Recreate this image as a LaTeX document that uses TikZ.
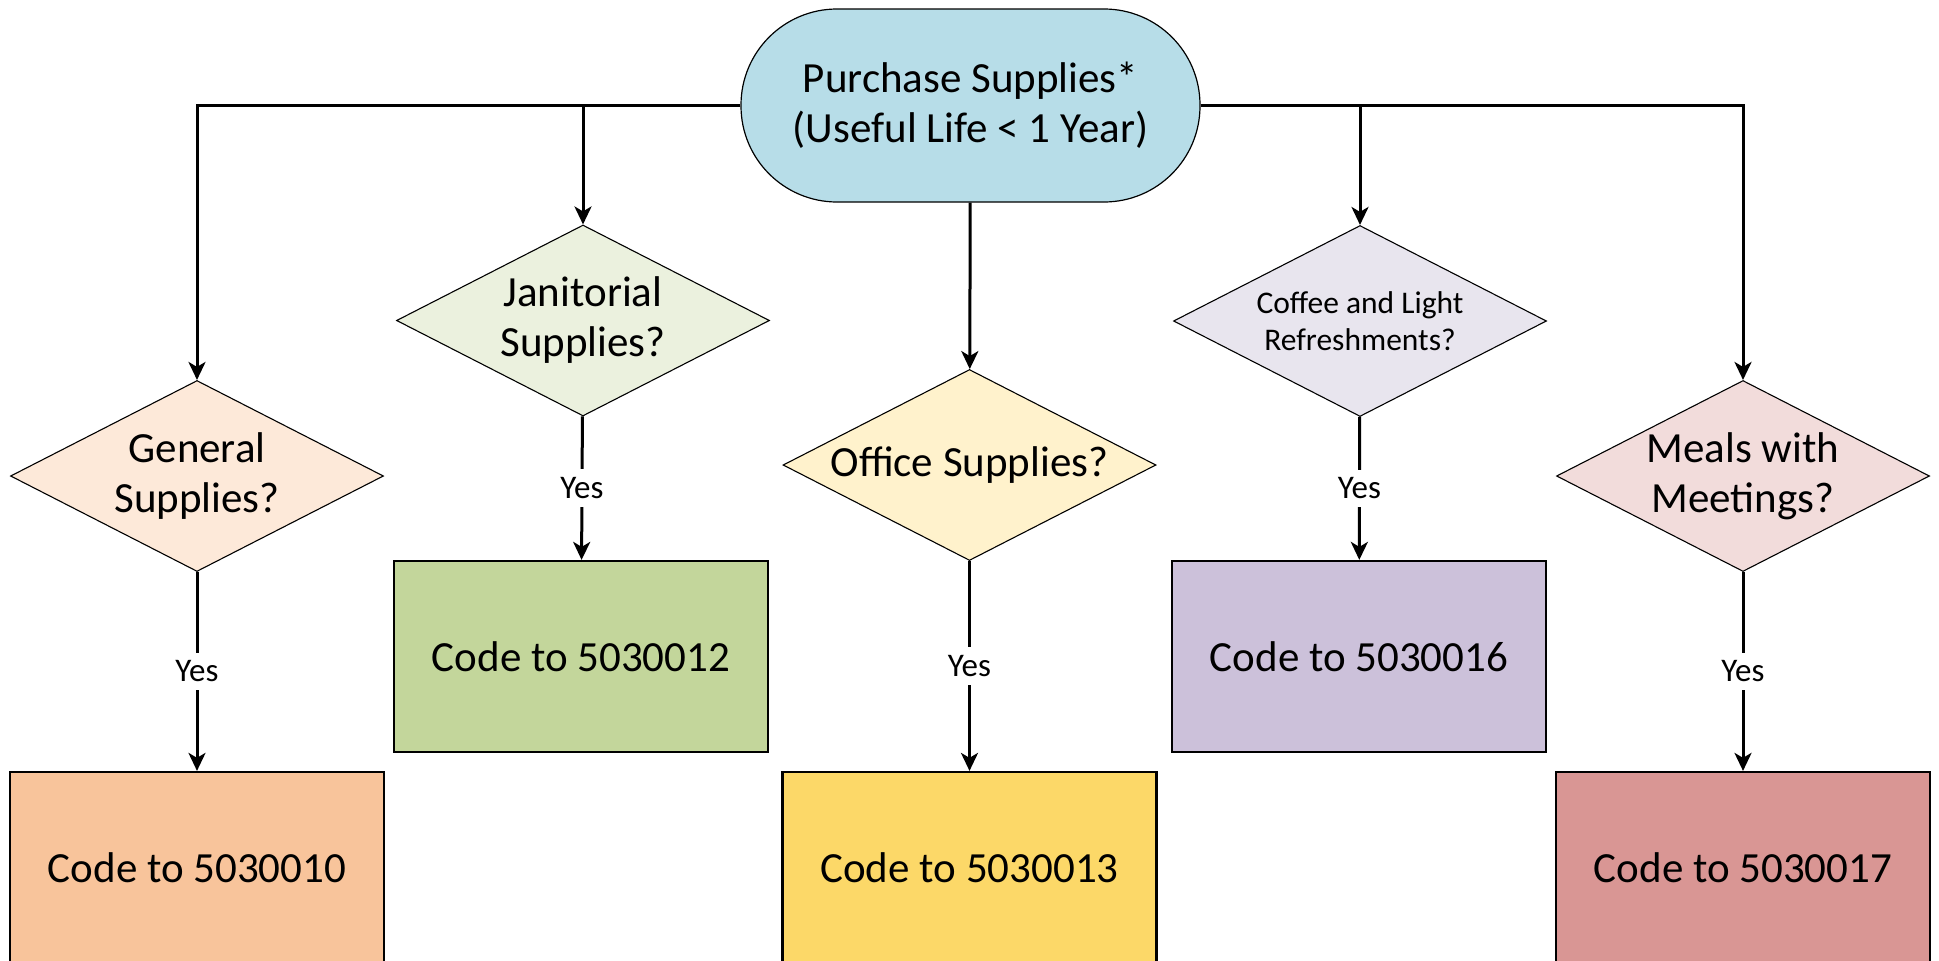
\documentclass[tikz,border=0pt]{standalone}
\usepackage{fontspec}
\setmainfont{Carlito}
\usetikzlibrary{shapes.geometric,arrows.meta}

\definecolor{startfill}{HTML}{B7DDE8}
\definecolor{genfill}{HTML}{FDE9D9}
\definecolor{janfill}{HTML}{EBF1DE}
\definecolor{offfill}{HTML}{FFF2CC}
\definecolor{coffill}{HTML}{E8E5EE}
\definecolor{mealfill}{HTML}{F2DCDB}
\definecolor{genbox}{HTML}{F8C49B}
\definecolor{janbox}{HTML}{C3D69B}
\definecolor{offbox}{HTML}{FCD868}
\definecolor{cofbox}{HTML}{CCC1DA}
\definecolor{mealbox}{HTML}{D99694}

\tikzset{
  bigtext/.style={font=\fontsize{43}{50}\selectfont},
  smalltext/.style={font=\fontsize{31.5}{37}\selectfont},
  yestext/.style={font=\fontsize{33}{38}\selectfont},
  terminal/.style={rectangle, rounded corners=96pt, draw=black, line width=1.2pt,
    fill=startfill, minimum width=459pt, minimum height=193pt, align=center, bigtext},
  decision/.style={diamond, draw=black, line width=1.1pt, minimum width=373pt,
    minimum height=191pt, inner sep=0pt, shape aspect=1.95, align=center},
  codebox/.style={rectangle, draw=black, line width=2.2pt, minimum width=374pt,
    minimum height=191pt, align=center, bigtext},
  flow/.style={line width=3pt, -{Stealth[length=18pt,width=17pt,inset=5pt]}},
  yeslabel/.style={fill=white, yestext, inner xsep=3pt, inner ysep=8pt},
}

\begin{document}
\begin{tikzpicture}[x=1pt,y=-1pt]
  \useasboundingbox (0,0) rectangle (1939,961);
  \clip (0,0) rectangle (1939,961);

  % start
  \node[terminal] (top) at (970.5,105.5) {Purchase Supplies*\\(Useful Life < 1 Year)};

  % questions
  \node[decision, fill=genfill, bigtext]  (gen)  at (197,476)   {General\\Supplies?};
  \node[decision, fill=janfill, bigtext]  (jan)  at (583,320.5) {Janitorial\\Supplies?};
  \node[decision, fill=offfill, bigtext]  (off)  at (969.5,465) {Office Supplies?};
  \node[decision, fill=coffill, smalltext](cof)  at (1360,321)  {Coffee and Light\\Refreshments?};
  \node[decision, fill=mealfill, bigtext] (meal) at (1743,476)  {Meals with\\Meetings?};

  % account codes
  \node[codebox, fill=genbox]  (c10) at (197,867.5)   {Code to 5030010};
  \node[codebox, fill=janbox]  (c12) at (581,656.5)   {Code to 5030012};
  \node[codebox, fill=offbox]  (c13) at (969.5,867.5) {Code to 5030013};
  \node[codebox, fill=cofbox]  (c16) at (1359,656.5)  {Code to 5030016};
  \node[codebox, fill=mealbox] (c17) at (1743,867.5)  {Code to 5030017};

  % branches from the start
  \draw[flow] (top) -| (gen);
  \draw[flow] (top) -| (jan);
  \draw[flow] (top) -- (off);
  \draw[flow] (top) -| (cof);
  \draw[flow] (top) -| (meal);

  % yes answers
  \draw[flow] (gen)  -- node[yeslabel] {Yes} (c10);
  \draw[flow] (jan)  -- node[yeslabel] {Yes} (c12);
  \draw[flow] (off)  -- node[yeslabel] {Yes} (c13);
  \draw[flow] (cof)  -- node[yeslabel] {Yes} (c16);
  \draw[flow] (meal) -- node[yeslabel] {Yes} (c17);
\end{tikzpicture}
\end{document}
